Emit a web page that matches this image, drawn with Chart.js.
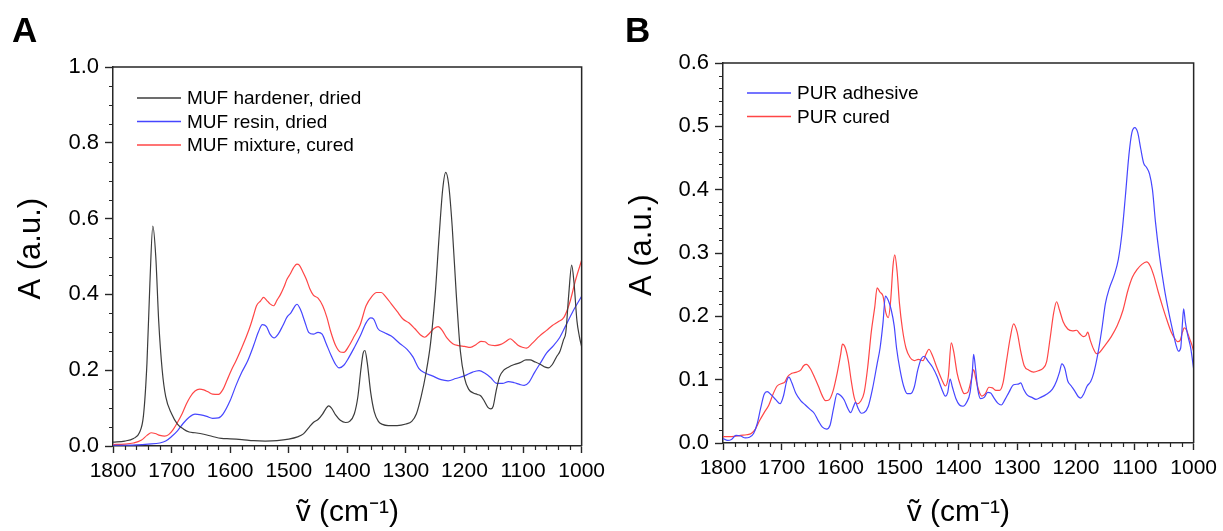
<!DOCTYPE html>
<html>
<head>
<meta charset="utf-8">
<script src="https://cdn.jsdelivr.net/npm/chart.js@4.4.1/dist/chart.umd.min.js"></script>
<style>
  html, body { margin: 0; padding: 0; background: #fff; }
  #wrap { position: relative; width: 1223px; height: 531px; }
  #chartA { position: absolute; left: 0; top: 0; }
  #chartB { position: absolute; left: 611px; top: 0; }
</style>
</head>
<body>
<div id="wrap">
  <canvas id="chartA" width="611" height="531"></canvas>
  <canvas id="chartB" width="612" height="531"></canvas>
</div>
<script>
// ---- Panel A: MUF ----
const hardenerWn = [1800,1780,1765,1755,1748,1742,1737,1732,1727,1722,1716,1710,1700,1690,1680,1670,1660,1645,1630,1615,1600,1580,1560,1540,1520,1500,1485,1475,1465,1458,1450,1442,1436,1432,1427,1420,1412,1403,1396,1388,1382,1377,1373,1370,1366,1360,1354,1347,1340,1330,1315,1300,1290,1282,1274,1266,1258,1250,1243,1237,1232,1227,1221,1214,1207,1200,1193,1185,1178,1172,1166,1160,1155,1151,1146,1140,1133,1125,1115,1105,1095,1088,1080,1070,1062,1057,1050,1043,1037,1031,1027,1022,1017,1013,1008,1004,1000];
const hardenerAbs = [0.010,0.013,0.020,0.035,0.080,0.220,0.430,0.580,0.500,0.330,0.200,0.130,0.085,0.058,0.045,0.037,0.035,0.031,0.025,0.020,0.019,0.017,0.014,0.013,0.014,0.018,0.024,0.032,0.050,0.062,0.070,0.085,0.100,0.106,0.100,0.082,0.068,0.062,0.065,0.085,0.130,0.200,0.245,0.252,0.220,0.140,0.090,0.065,0.057,0.054,0.054,0.058,0.065,0.085,0.130,0.190,0.270,0.400,0.560,0.680,0.722,0.690,0.580,0.400,0.250,0.180,0.150,0.140,0.136,0.132,0.118,0.102,0.098,0.105,0.145,0.183,0.200,0.208,0.215,0.220,0.227,0.227,0.222,0.215,0.208,0.206,0.215,0.235,0.250,0.280,0.300,0.400,0.477,0.430,0.330,0.290,0.262];

const resinWn = [1800,1780,1760,1740,1720,1710,1700,1690,1680,1670,1660,1650,1640,1630,1620,1612,1600,1590,1580,1570,1560,1552,1545,1538,1532,1525,1518,1510,1503,1496,1490,1486,1480,1473,1466,1458,1450,1443,1436,1428,1420,1414,1406,1398,1388,1378,1368,1360,1355,1348,1338,1325,1310,1298,1288,1278,1268,1255,1240,1228,1215,1200,1186,1175,1165,1155,1145,1135,1125,1115,1105,1098,1090,1080,1070,1060,1048,1038,1028,1015,1000];
const resinAbs = [0.002,0.002,0.003,0.005,0.008,0.013,0.025,0.040,0.060,0.076,0.084,0.082,0.078,0.073,0.074,0.085,0.120,0.160,0.195,0.225,0.265,0.300,0.320,0.315,0.295,0.285,0.295,0.318,0.340,0.352,0.368,0.374,0.360,0.330,0.300,0.295,0.300,0.295,0.270,0.240,0.215,0.206,0.213,0.232,0.260,0.290,0.325,0.338,0.335,0.310,0.300,0.290,0.270,0.255,0.235,0.205,0.193,0.185,0.175,0.172,0.178,0.185,0.195,0.199,0.192,0.180,0.165,0.165,0.170,0.167,0.162,0.160,0.168,0.195,0.220,0.245,0.265,0.285,0.315,0.355,0.395];

const mixtureWn = [1800,1780,1765,1752,1742,1735,1728,1720,1712,1705,1698,1690,1682,1675,1668,1660,1652,1645,1638,1630,1620,1612,1605,1598,1590,1580,1572,1565,1560,1555,1548,1543,1538,1532,1526,1520,1514,1508,1503,1497,1492,1486,1482,1476,1470,1464,1458,1450,1442,1435,1428,1420,1412,1406,1398,1388,1378,1368,1358,1350,1342,1335,1325,1315,1305,1295,1285,1275,1268,1260,1252,1245,1238,1230,1220,1210,1200,1190,1180,1172,1165,1158,1148,1138,1130,1122,1115,1108,1100,1094,1085,1072,1060,1050,1040,1030,1020,1010,1000];
const mixtureAbs = [0.004,0.005,0.008,0.015,0.028,0.035,0.033,0.028,0.026,0.030,0.042,0.062,0.085,0.110,0.130,0.145,0.150,0.148,0.143,0.137,0.136,0.150,0.175,0.200,0.225,0.260,0.290,0.320,0.345,0.370,0.383,0.392,0.385,0.375,0.370,0.385,0.400,0.420,0.440,0.455,0.470,0.480,0.477,0.460,0.440,0.415,0.398,0.390,0.370,0.340,0.300,0.265,0.248,0.247,0.262,0.290,0.320,0.370,0.395,0.405,0.405,0.395,0.375,0.355,0.335,0.325,0.310,0.293,0.287,0.297,0.310,0.315,0.305,0.285,0.270,0.265,0.263,0.260,0.268,0.276,0.275,0.267,0.265,0.268,0.275,0.283,0.275,0.265,0.260,0.258,0.270,0.290,0.305,0.318,0.328,0.340,0.380,0.440,0.490];

// ---- Panel B: PUR ----
const adhesiveWn = [1800,1792,1785,1778,1770,1762,1755,1748,1742,1736,1730,1725,1718,1710,1703,1697,1692,1688,1683,1676,1668,1660,1652,1645,1638,1631,1624,1618,1612,1606,1600,1594,1588,1583,1578,1575,1570,1565,1560,1553,1546,1538,1533,1528,1524,1519,1514,1509,1505,1499,1493,1487,1481,1475,1469,1463,1458,1452,1444,1436,1428,1422,1418,1414,1410,1404,1398,1392,1386,1380,1376,1374,1371,1367,1362,1356,1350,1345,1340,1333,1327,1321,1314,1306,1298,1294,1289,1283,1275,1268,1260,1250,1240,1233,1228,1224,1219,1214,1208,1202,1196,1192,1187,1181,1175,1170,1163,1156,1150,1143,1135,1128,1122,1116,1110,1105,1100,1095,1090,1085,1080,1075,1070,1065,1058,1050,1042,1035,1030,1026,1022,1019,1017,1014,1010,1005,1000];
const adhesiveAbs = [0.007,0.004,0.006,0.012,0.011,0.008,0.009,0.015,0.030,0.055,0.077,0.081,0.076,0.068,0.062,0.075,0.097,0.104,0.095,0.078,0.067,0.060,0.053,0.047,0.035,0.025,0.022,0.028,0.055,0.078,0.075,0.068,0.055,0.048,0.058,0.064,0.054,0.047,0.048,0.058,0.085,0.125,0.150,0.190,0.232,0.225,0.210,0.185,0.150,0.115,0.090,0.078,0.078,0.088,0.115,0.133,0.137,0.130,0.120,0.105,0.085,0.074,0.080,0.101,0.088,0.070,0.060,0.058,0.064,0.080,0.115,0.140,0.120,0.085,0.070,0.072,0.080,0.079,0.072,0.063,0.060,0.068,0.080,0.092,0.093,0.095,0.085,0.076,0.072,0.069,0.072,0.077,0.085,0.098,0.112,0.125,0.118,0.098,0.090,0.082,0.073,0.071,0.077,0.090,0.097,0.110,0.140,0.180,0.220,0.245,0.265,0.290,0.330,0.390,0.455,0.490,0.498,0.490,0.465,0.442,0.435,0.425,0.400,0.350,0.295,0.245,0.205,0.175,0.155,0.145,0.150,0.190,0.212,0.190,0.170,0.150,0.117];

const curedWn = [1800,1785,1770,1760,1752,1745,1738,1730,1722,1715,1708,1700,1695,1690,1683,1675,1668,1663,1658,1652,1645,1638,1631,1626,1620,1613,1606,1600,1597,1592,1587,1582,1577,1572,1566,1560,1554,1548,1542,1538,1533,1528,1523,1519,1515,1511,1508,1504,1500,1495,1489,1482,1475,1468,1460,1455,1450,1444,1436,1428,1422,1417,1412,1408,1402,1396,1390,1384,1378,1374,1370,1365,1360,1354,1348,1342,1336,1330,1324,1318,1312,1306,1300,1294,1288,1280,1272,1264,1256,1250,1244,1238,1233,1228,1222,1214,1206,1199,1193,1187,1183,1180,1176,1170,1165,1160,1150,1140,1130,1120,1112,1104,1096,1088,1080,1074,1068,1060,1052,1045,1038,1032,1027,1023,1019,1016,1012,1007,1003,1000];
const curedAbs = [0.010,0.010,0.012,0.013,0.015,0.022,0.035,0.048,0.060,0.077,0.090,0.094,0.096,0.105,0.110,0.112,0.115,0.122,0.124,0.118,0.105,0.090,0.074,0.067,0.068,0.082,0.110,0.140,0.156,0.150,0.130,0.098,0.072,0.062,0.066,0.080,0.120,0.175,0.215,0.245,0.238,0.232,0.205,0.198,0.225,0.280,0.297,0.270,0.220,0.180,0.150,0.135,0.130,0.132,0.130,0.140,0.148,0.138,0.118,0.100,0.090,0.105,0.158,0.145,0.110,0.090,0.078,0.080,0.100,0.116,0.100,0.082,0.074,0.078,0.088,0.087,0.083,0.083,0.095,0.130,0.165,0.188,0.175,0.145,0.122,0.115,0.112,0.114,0.118,0.128,0.165,0.205,0.223,0.210,0.192,0.180,0.177,0.178,0.172,0.168,0.170,0.175,0.163,0.148,0.141,0.143,0.155,0.168,0.185,0.210,0.240,0.262,0.274,0.282,0.286,0.280,0.265,0.238,0.213,0.193,0.175,0.165,0.160,0.162,0.175,0.182,0.178,0.165,0.155,0.145];

const xTicks = [1800, 1700, 1600, 1500, 1400, 1300, 1200, 1100, 1000];
const yTicksA = [0.0, 0.2, 0.4, 0.6, 0.8, 1.0];
const yTicksB = [0.0, 0.1, 0.2, 0.3, 0.4, 0.5, 0.6];

const FONT = "'Liberation Sans', Arial, Helvetica, sans-serif";
const BLACK = '#3c3c3c';
const BLUE = 'rgb(70,70,255)';
const RED = 'rgb(255,70,70)';
const FRAME = '#262626';

function toPoints(xs, ys) {
    return xs.map((x, i) => ({ x: x, y: ys[i] }));
}

function line(label, xs, ys, color) {
    return {
        label: label,
        data: toPoints(xs, ys),
        borderColor: color,
        backgroundColor: color,
        borderWidth: 1.2,
        pointRadius: 0,
        fill: false,
        cubicInterpolationMode: 'monotone'
    };
}

// draws frame, minor ticks, panel letter and the inner legend
const decorPlugin = {
    id: 'decor',
    afterDraw(chart, args, opts) {
        const ctx = chart.ctx;
        const area = chart.chartArea;
        const xs = chart.scales.x;
        const ys = chart.scales.y;
        ctx.save();
        ctx.strokeStyle = FRAME;
        ctx.lineWidth = 1.5;
        ctx.beginPath();
        ctx.moveTo(area.left, area.top);
        ctx.lineTo(area.right, area.top);
        ctx.lineTo(area.right, area.bottom);
        ctx.stroke();

        // minor ticks
        ctx.lineWidth = 1.2;
        ctx.beginPath();
        for (let v = 1000; v <= 1800; v += 20) {
            if (v % 100 === 0) continue;
            const px = Math.round(xs.getPixelForValue(v)) + 0.5;
            ctx.moveTo(px, area.bottom);
            ctx.lineTo(px, area.bottom + 4);
        }
        const yMax = ys.max;
        for (let i = 0; i * opts.yMinor <= yMax + 1e-9; i++) {
            const v = i * opts.yMinor;
            if (Math.abs(v / opts.yMajor - Math.round(v / opts.yMajor)) < 1e-6) continue;
            const py = Math.round(ys.getPixelForValue(v)) + 0.5;
            ctx.moveTo(area.left - 4, py);
            ctx.lineTo(area.left, py);
        }
        ctx.stroke();

        // panel letter
        ctx.fillStyle = '#000';
        ctx.font = 'bold 35px ' + FONT;
        ctx.textBaseline = 'alphabetic';
        ctx.textAlign = 'left';
        ctx.fillText(opts.letter, opts.letterX, 42);

        // legend inside plot
        ctx.font = '19px ' + FONT;
        ctx.textBaseline = 'middle';
        chart.data.datasets.forEach((ds, i) => {
            const y = area.top + opts.legendTop + i * 23.5;
            ctx.strokeStyle = ds.borderColor;
            ctx.lineWidth = 1.3;
            ctx.beginPath();
            ctx.moveTo(area.left + 24, y);
            ctx.lineTo(area.left + 68, y);
            ctx.stroke();
            ctx.fillStyle = '#000';
            ctx.fillText(ds.label, area.left + 74, y + 1);
        });
        ctx.restore();
    }
};

function makeChart(el, datasets, yMax, yStep, yMinor, yLabels, cfg) {
    return new Chart(el, {
        type: 'line',
        data: { datasets: datasets },
        plugins: [decorPlugin],
        options: {
            responsive: false,
            animation: false,
            events: [],
            layout: { padding: { left: 0, top: cfg.top, right: cfg.right, bottom: 0 } },
            plugins: {
                legend: { display: false },
                tooltip: { enabled: false },
                decor: { letter: cfg.letter, letterX: cfg.letterX, legendTop: cfg.legendTop, yMinor: yMinor, yMajor: yStep }
            },
            scales: {
                x: {
                    type: 'linear',
                    reverse: true,
                    min: 1000,
                    max: 1800,
                    afterFit: s => { s.height = cfg.xHeight; },
                    afterBuildTicks: s => { s.ticks = xTicks.map(v => ({ value: v })); },
                    ticks: {
                        color: '#000',
                        font: { family: FONT, size: 21 },
                        padding: 6,
                        maxRotation: 0,
                        autoSkip: false,
                        callback: v => String(v)
                    },
                    grid: { drawOnChartArea: false, drawTicks: true, tickLength: 7, tickColor: FRAME, tickWidth: 1.4 },
                    border: { color: FRAME, width: 1.5 },
                    title: { display: true, text: '\u1E7D (cm\u207B\u00B9)', color: '#000', font: { family: FONT, size: 30 }, padding: 0 }
                },
                y: {
                    min: 0,
                    max: yMax,
                    afterFit: s => { s.width = cfg.yWidth; },
                    afterBuildTicks: s => { s.ticks = yLabels.map(v => ({ value: v })); },
                    ticks: {
                        color: '#000',
                        font: { family: FONT, size: 22 },
                        padding: 6,
                        autoSkip: false,
                        callback: v => v.toFixed(1)
                    },
                    grid: { drawOnChartArea: false, drawTicks: true, tickLength: 8, tickColor: FRAME, tickWidth: 1.4 },
                    border: { color: FRAME, width: 1.5 },
                    title: { display: true, text: '\u2002A (a.u.)', color: '#000', font: { family: FONT, size: 31 }, padding: { top: 13 } }
                }
            }
        }
    });
}

makeChart(document.getElementById('chartA'), [
    line('MUF hardener, dried', hardenerWn, hardenerAbs, BLACK),
    line('MUF resin, dried', resinWn, resinAbs, BLUE),
    line('MUF mixture, cured', mixtureWn, mixtureAbs, RED)
], 1.0, 0.2, 0.05, yTicksA, { top: 67, right: 29, xHeight: 85, yWidth: 113, letter: 'A', letterX: 12, legendTop: 31 });

makeChart(document.getElementById('chartB'), [
    line('PUR adhesive', adhesiveWn, adhesiveAbs, BLUE),
    line('PUR cured', curedWn, curedAbs, RED)
], 0.6, 0.1, 0.02, yTicksB, { top: 63, right: 28, xHeight: 88, yWidth: 112, letter: 'B', letterX: 14, legendTop: 30 });
</script>
</body>
</html>
